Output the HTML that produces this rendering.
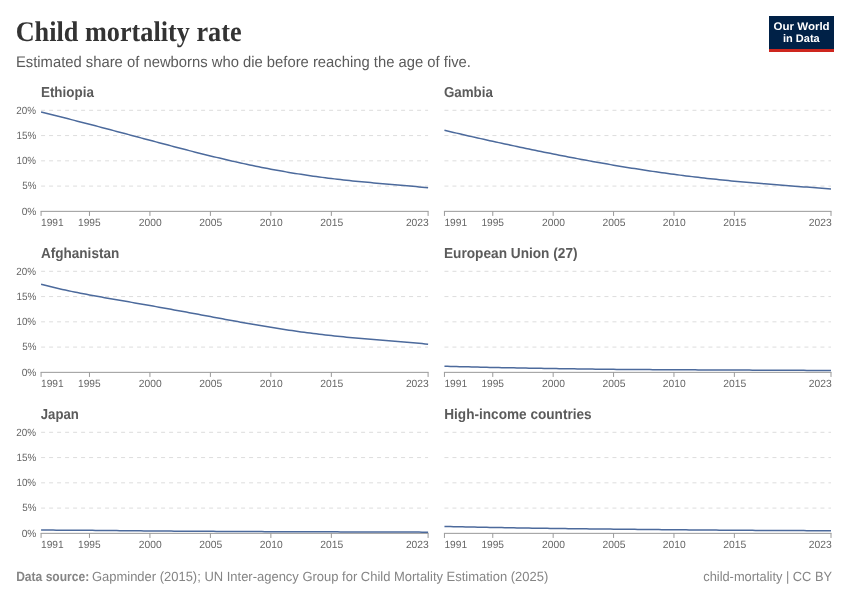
<!DOCTYPE html>
<html><head><meta charset="utf-8"><title>Child mortality rate</title>
<style>html,body{margin:0;padding:0;background:#fff;}body{width:850px;height:600px;overflow:hidden;font-family:"Liberation Sans",sans-serif;}</style>
</head><body>
<svg width="850" height="600" viewBox="0 0 850 600" style="display:block;will-change:transform" text-rendering="geometricPrecision">
<text x="15.67" y="41.00" font-family="Liberation Serif" font-size="28.5" fill="#333333" font-weight="bold" textLength="225.92" lengthAdjust="spacingAndGlyphs">Child mortality rate</text>
<text x="15.92" y="66.50" font-family="Liberation Sans" font-size="15.4" fill="#5b5b5b" textLength="455.01" lengthAdjust="spacingAndGlyphs">Estimated share of newborns who die before reaching the age of five.</text>
<rect x="769" y="16" width="65" height="36" fill="#002147"/>
<rect x="769" y="49" width="65" height="3" fill="#ce261e"/>
<text x="773.54" y="30.00" font-family="Liberation Sans" font-size="11.0" fill="#ffffff" font-weight="bold" textLength="56.11" lengthAdjust="spacingAndGlyphs">Our World</text>
<text x="782.98" y="42.00" font-family="Liberation Sans" font-size="11.0" fill="#ffffff" font-weight="bold" textLength="36.80" lengthAdjust="spacingAndGlyphs">in Data</text>
<g><text x="40.93" y="97.00" font-family="Liberation Sans" font-size="14.5" fill="#5b5b5b" font-weight="bold" textLength="52.98" lengthAdjust="spacingAndGlyphs">Ethiopia</text>
<line x1="41.08" x2="428.10" y1="186.09" y2="186.09" stroke="#dddddd" stroke-width="1" stroke-dasharray="4,4"/>
<line x1="41.08" x2="428.10" y1="160.83" y2="160.83" stroke="#dddddd" stroke-width="1" stroke-dasharray="4,4"/>
<line x1="41.08" x2="428.10" y1="135.57" y2="135.57" stroke="#dddddd" stroke-width="1" stroke-dasharray="4,4"/>
<line x1="41.08" x2="428.10" y1="110.31" y2="110.31" stroke="#dddddd" stroke-width="1" stroke-dasharray="4,4"/>
<text x="21.64" y="215.00" font-family="Liberation Sans" font-size="10.5" fill="#666666" textLength="14.72" lengthAdjust="spacingAndGlyphs">0%</text>
<text x="22.21" y="189.00" font-family="Liberation Sans" font-size="10.5" fill="#666666" textLength="14.14" lengthAdjust="spacingAndGlyphs">5%</text>
<text x="16.47" y="164.00" font-family="Liberation Sans" font-size="10.5" fill="#666666" textLength="19.59" lengthAdjust="spacingAndGlyphs">10%</text>
<text x="16.46" y="139.00" font-family="Liberation Sans" font-size="10.5" fill="#666666" textLength="19.80" lengthAdjust="spacingAndGlyphs">15%</text>
<text x="16.31" y="114.00" font-family="Liberation Sans" font-size="10.5" fill="#666666" textLength="19.75" lengthAdjust="spacingAndGlyphs">20%</text>
<line x1="40.58" x2="428.60" y1="211.35" y2="211.35" stroke="#999999" stroke-width="1"/>
<line x1="41.08" x2="41.08" y1="211.35" y2="215.95" stroke="#999999" stroke-width="1"/>
<text x="41.07" y="226.00" font-family="Liberation Sans" font-size="10.5" fill="#666666" textLength="22.62" lengthAdjust="spacingAndGlyphs">1991</text>
<line x1="89.46" x2="89.46" y1="211.35" y2="215.95" stroke="#999999" stroke-width="1"/>
<text x="78.10" y="226.00" font-family="Liberation Sans" font-size="10.5" fill="#666666" textLength="22.56" lengthAdjust="spacingAndGlyphs">1995</text>
<line x1="149.93" x2="149.93" y1="211.35" y2="215.95" stroke="#999999" stroke-width="1"/>
<text x="138.82" y="226.00" font-family="Liberation Sans" font-size="10.5" fill="#666666" textLength="22.87" lengthAdjust="spacingAndGlyphs">2000</text>
<line x1="210.40" x2="210.40" y1="211.35" y2="215.95" stroke="#999999" stroke-width="1"/>
<text x="199.29" y="226.00" font-family="Liberation Sans" font-size="10.5" fill="#666666" textLength="22.92" lengthAdjust="spacingAndGlyphs">2005</text>
<line x1="270.87" x2="270.87" y1="211.35" y2="215.95" stroke="#999999" stroke-width="1"/>
<text x="259.76" y="226.00" font-family="Liberation Sans" font-size="10.5" fill="#666666" textLength="22.87" lengthAdjust="spacingAndGlyphs">2010</text>
<line x1="331.35" x2="331.35" y1="211.35" y2="215.95" stroke="#999999" stroke-width="1"/>
<text x="320.23" y="226.00" font-family="Liberation Sans" font-size="10.5" fill="#666666" textLength="22.92" lengthAdjust="spacingAndGlyphs">2015</text>
<line x1="428.10" x2="428.10" y1="211.35" y2="215.95" stroke="#999999" stroke-width="1"/>
<text x="405.88" y="226.00" font-family="Liberation Sans" font-size="10.5" fill="#666666" textLength="22.92" lengthAdjust="spacingAndGlyphs">2023</text>
<polyline points="41.08,112.04 44.10,112.79 47.13,113.54 50.15,114.29 53.17,115.05 56.20,115.81 59.22,116.56 62.25,117.32 65.27,118.09 68.29,118.85 71.32,119.62 74.34,120.39 77.36,121.16 80.39,121.94 83.41,122.71 86.43,123.49 89.46,124.28 92.48,125.06 95.50,125.85 98.53,126.64 101.55,127.43 104.58,128.22 107.60,129.02 110.62,129.81 113.65,130.61 116.67,131.41 119.69,132.22 122.72,133.02 125.74,133.82 128.76,134.63 131.79,135.44 134.81,136.24 137.84,137.05 140.86,137.86 143.88,138.66 146.91,139.47 149.93,140.28 152.95,141.08 155.98,141.89 159.00,142.69 162.02,143.50 165.05,144.30 168.07,145.09 171.09,145.89 174.12,146.68 177.14,147.48 180.17,148.26 183.19,149.05 186.21,149.83 189.24,150.61 192.26,151.38 195.28,152.15 198.31,152.91 201.33,153.67 204.35,154.42 207.38,155.17 210.40,155.91 213.42,156.65 216.45,157.38 219.47,158.10 222.50,158.82 225.52,159.52 228.54,160.23 231.57,160.92 234.59,161.61 237.61,162.28 240.64,162.95 243.66,163.61 246.68,164.27 249.71,164.91 252.73,165.55 255.76,166.17 258.78,166.79 261.80,167.39 264.83,167.99 267.85,168.58 270.87,169.15 273.90,169.72 276.92,170.28 279.94,170.82 282.97,171.36 285.99,171.88 289.01,172.40 292.04,172.90 295.06,173.40 298.09,173.88 301.11,174.35 304.13,174.82 307.16,175.27 310.18,175.71 313.20,176.14 316.23,176.56 319.25,176.97 322.27,177.37 325.30,177.76 328.32,178.15 331.35,178.52 334.37,178.88 337.39,179.23 340.42,179.58 343.44,179.92 346.46,180.24 349.49,180.57 352.51,180.88 355.53,181.18 358.56,181.48 361.58,181.78 364.60,182.06 367.63,182.35 370.65,182.62 373.68,182.90 376.70,183.17 379.72,183.43 382.75,183.69 385.77,183.96 388.79,184.22 391.82,184.47 394.84,184.73 397.86,184.99 400.89,185.26 403.91,185.52 406.93,185.79 409.96,186.06 412.98,186.34 416.01,186.62 419.03,186.91 422.05,187.21 425.08,187.51 428.10,187.83" fill="none" stroke="#4c6a9c" stroke-width="1.5" stroke-linejoin="round"/></g>
<g><text x="443.92" y="97.00" font-family="Liberation Sans" font-size="14.5" fill="#5b5b5b" font-weight="bold" textLength="48.96" lengthAdjust="spacingAndGlyphs">Gambia</text>
<line x1="444.45" x2="831.00" y1="186.09" y2="186.09" stroke="#dddddd" stroke-width="1" stroke-dasharray="4,4"/>
<line x1="444.45" x2="831.00" y1="160.83" y2="160.83" stroke="#dddddd" stroke-width="1" stroke-dasharray="4,4"/>
<line x1="444.45" x2="831.00" y1="135.57" y2="135.57" stroke="#dddddd" stroke-width="1" stroke-dasharray="4,4"/>
<line x1="444.45" x2="831.00" y1="110.31" y2="110.31" stroke="#dddddd" stroke-width="1" stroke-dasharray="4,4"/>
<line x1="443.95" x2="831.50" y1="211.35" y2="211.35" stroke="#999999" stroke-width="1"/>
<line x1="444.45" x2="444.45" y1="211.35" y2="215.95" stroke="#999999" stroke-width="1"/>
<text x="444.44" y="226.00" font-family="Liberation Sans" font-size="10.5" fill="#666666" textLength="22.62" lengthAdjust="spacingAndGlyphs">1991</text>
<line x1="492.77" x2="492.77" y1="211.35" y2="215.95" stroke="#999999" stroke-width="1"/>
<text x="481.41" y="226.00" font-family="Liberation Sans" font-size="10.5" fill="#666666" textLength="22.56" lengthAdjust="spacingAndGlyphs">1995</text>
<line x1="553.17" x2="553.17" y1="211.35" y2="215.95" stroke="#999999" stroke-width="1"/>
<text x="542.05" y="226.00" font-family="Liberation Sans" font-size="10.5" fill="#666666" textLength="22.87" lengthAdjust="spacingAndGlyphs">2000</text>
<line x1="613.57" x2="613.57" y1="211.35" y2="215.95" stroke="#999999" stroke-width="1"/>
<text x="602.45" y="226.00" font-family="Liberation Sans" font-size="10.5" fill="#666666" textLength="22.92" lengthAdjust="spacingAndGlyphs">2005</text>
<line x1="673.96" x2="673.96" y1="211.35" y2="215.95" stroke="#999999" stroke-width="1"/>
<text x="662.85" y="226.00" font-family="Liberation Sans" font-size="10.5" fill="#666666" textLength="22.87" lengthAdjust="spacingAndGlyphs">2010</text>
<line x1="734.36" x2="734.36" y1="211.35" y2="215.95" stroke="#999999" stroke-width="1"/>
<text x="723.25" y="226.00" font-family="Liberation Sans" font-size="10.5" fill="#666666" textLength="22.92" lengthAdjust="spacingAndGlyphs">2015</text>
<line x1="831.00" x2="831.00" y1="211.35" y2="215.95" stroke="#999999" stroke-width="1"/>
<text x="808.78" y="226.00" font-family="Liberation Sans" font-size="10.5" fill="#666666" textLength="22.92" lengthAdjust="spacingAndGlyphs">2023</text>
<polyline points="444.45,130.30 447.47,131.02 450.49,131.73 453.51,132.44 456.53,133.14 459.55,133.84 462.57,134.54 465.59,135.23 468.61,135.92 471.63,136.61 474.65,137.29 477.67,137.97 480.69,138.64 483.71,139.32 486.73,139.99 489.75,140.65 492.77,141.32 495.79,141.98 498.81,142.64 501.83,143.29 504.85,143.94 507.87,144.59 510.89,145.24 513.91,145.88 516.93,146.52 519.95,147.16 522.97,147.79 525.99,148.42 529.01,149.05 532.03,149.68 535.05,150.30 538.07,150.92 541.09,151.53 544.11,152.14 547.13,152.75 550.15,153.36 553.17,153.96 556.19,154.55 559.21,155.15 562.23,155.74 565.25,156.33 568.27,156.91 571.29,157.49 574.31,158.06 577.33,158.63 580.35,159.20 583.37,159.76 586.39,160.32 589.41,160.88 592.43,161.43 595.45,161.97 598.47,162.51 601.49,163.05 604.51,163.58 607.53,164.11 610.55,164.63 613.57,165.14 616.59,165.66 619.61,166.16 622.63,166.66 625.65,167.16 628.67,167.65 631.69,168.14 634.71,168.61 637.73,169.09 640.74,169.56 643.76,170.02 646.78,170.48 649.80,170.93 652.82,171.38 655.84,171.82 658.86,172.25 661.88,172.68 664.90,173.10 667.92,173.52 670.94,173.93 673.96,174.33 676.98,174.73 680.00,175.12 683.02,175.51 686.04,175.89 689.06,176.26 692.08,176.63 695.10,177.00 698.12,177.35 701.14,177.70 704.16,178.05 707.18,178.39 710.20,178.72 713.22,179.05 716.24,179.37 719.26,179.69 722.28,180.00 725.30,180.30 728.32,180.60 731.34,180.90 734.36,181.19 737.38,181.47 740.40,181.75 743.42,182.03 746.44,182.30 749.46,182.57 752.48,182.83 755.50,183.09 758.52,183.35 761.54,183.60 764.56,183.85 767.58,184.09 770.60,184.33 773.62,184.57 776.64,184.81 779.66,185.04 782.68,185.28 785.70,185.51 788.72,185.74 791.74,185.97 794.76,186.19 797.78,186.42 800.80,186.65 803.82,186.88 806.84,187.11 809.86,187.34 812.88,187.57 815.90,187.80 818.92,188.04 821.94,188.28 824.96,188.52 827.98,188.77 831.00,189.02" fill="none" stroke="#4c6a9c" stroke-width="1.5" stroke-linejoin="round"/></g>
<g><text x="40.96" y="258.00" font-family="Liberation Sans" font-size="14.5" fill="#5b5b5b" font-weight="bold" textLength="78.29" lengthAdjust="spacingAndGlyphs">Afghanistan</text>
<line x1="41.08" x2="428.10" y1="347.09" y2="347.09" stroke="#dddddd" stroke-width="1" stroke-dasharray="4,4"/>
<line x1="41.08" x2="428.10" y1="321.83" y2="321.83" stroke="#dddddd" stroke-width="1" stroke-dasharray="4,4"/>
<line x1="41.08" x2="428.10" y1="296.57" y2="296.57" stroke="#dddddd" stroke-width="1" stroke-dasharray="4,4"/>
<line x1="41.08" x2="428.10" y1="271.31" y2="271.31" stroke="#dddddd" stroke-width="1" stroke-dasharray="4,4"/>
<text x="21.64" y="376.00" font-family="Liberation Sans" font-size="10.5" fill="#666666" textLength="14.72" lengthAdjust="spacingAndGlyphs">0%</text>
<text x="22.21" y="350.00" font-family="Liberation Sans" font-size="10.5" fill="#666666" textLength="14.14" lengthAdjust="spacingAndGlyphs">5%</text>
<text x="16.47" y="325.00" font-family="Liberation Sans" font-size="10.5" fill="#666666" textLength="19.59" lengthAdjust="spacingAndGlyphs">10%</text>
<text x="16.46" y="300.00" font-family="Liberation Sans" font-size="10.5" fill="#666666" textLength="19.80" lengthAdjust="spacingAndGlyphs">15%</text>
<text x="16.31" y="275.00" font-family="Liberation Sans" font-size="10.5" fill="#666666" textLength="19.75" lengthAdjust="spacingAndGlyphs">20%</text>
<line x1="40.58" x2="428.60" y1="372.35" y2="372.35" stroke="#999999" stroke-width="1"/>
<line x1="41.08" x2="41.08" y1="372.35" y2="376.95" stroke="#999999" stroke-width="1"/>
<text x="41.07" y="387.00" font-family="Liberation Sans" font-size="10.5" fill="#666666" textLength="22.62" lengthAdjust="spacingAndGlyphs">1991</text>
<line x1="89.46" x2="89.46" y1="372.35" y2="376.95" stroke="#999999" stroke-width="1"/>
<text x="78.10" y="387.00" font-family="Liberation Sans" font-size="10.5" fill="#666666" textLength="22.56" lengthAdjust="spacingAndGlyphs">1995</text>
<line x1="149.93" x2="149.93" y1="372.35" y2="376.95" stroke="#999999" stroke-width="1"/>
<text x="138.82" y="387.00" font-family="Liberation Sans" font-size="10.5" fill="#666666" textLength="22.87" lengthAdjust="spacingAndGlyphs">2000</text>
<line x1="210.40" x2="210.40" y1="372.35" y2="376.95" stroke="#999999" stroke-width="1"/>
<text x="199.29" y="387.00" font-family="Liberation Sans" font-size="10.5" fill="#666666" textLength="22.92" lengthAdjust="spacingAndGlyphs">2005</text>
<line x1="270.87" x2="270.87" y1="372.35" y2="376.95" stroke="#999999" stroke-width="1"/>
<text x="259.76" y="387.00" font-family="Liberation Sans" font-size="10.5" fill="#666666" textLength="22.87" lengthAdjust="spacingAndGlyphs">2010</text>
<line x1="331.35" x2="331.35" y1="372.35" y2="376.95" stroke="#999999" stroke-width="1"/>
<text x="320.23" y="387.00" font-family="Liberation Sans" font-size="10.5" fill="#666666" textLength="22.92" lengthAdjust="spacingAndGlyphs">2015</text>
<line x1="428.10" x2="428.10" y1="372.35" y2="376.95" stroke="#999999" stroke-width="1"/>
<text x="405.88" y="387.00" font-family="Liberation Sans" font-size="10.5" fill="#666666" textLength="22.92" lengthAdjust="spacingAndGlyphs">2023</text>
<polyline points="41.08,284.22 44.10,285.04 47.13,285.83 50.15,286.60 53.17,287.34 56.20,288.06 59.22,288.76 62.25,289.44 65.27,290.10 68.29,290.74 71.32,291.37 74.34,291.99 77.36,292.60 80.39,293.19 83.41,293.77 86.43,294.35 89.46,294.91 92.48,295.47 95.50,296.02 98.53,296.57 101.55,297.11 104.58,297.65 107.60,298.18 110.62,298.71 113.65,299.24 116.67,299.76 119.69,300.29 122.72,300.81 125.74,301.34 128.76,301.86 131.79,302.38 134.81,302.91 137.84,303.44 140.86,303.96 143.88,304.49 146.91,305.02 149.93,305.56 152.95,306.09 155.98,306.63 159.00,307.17 162.02,307.71 165.05,308.25 168.07,308.80 171.09,309.34 174.12,309.89 177.14,310.44 180.17,311.00 183.19,311.55 186.21,312.11 189.24,312.67 192.26,313.23 195.28,313.79 198.31,314.35 201.33,314.91 204.35,315.47 207.38,316.03 210.40,316.59 213.42,317.16 216.45,317.72 219.47,318.28 222.50,318.84 225.52,319.39 228.54,319.95 231.57,320.50 234.59,321.05 237.61,321.60 240.64,322.14 243.66,322.68 246.68,323.22 249.71,323.75 252.73,324.28 255.76,324.81 258.78,325.32 261.80,325.84 264.83,326.34 267.85,326.85 270.87,327.34 273.90,327.83 276.92,328.31 279.94,328.79 282.97,329.25 285.99,329.71 289.01,330.16 292.04,330.61 295.06,331.04 298.09,331.47 301.11,331.89 304.13,332.30 307.16,332.70 310.18,333.10 313.20,333.48 316.23,333.86 319.25,334.23 322.27,334.59 325.30,334.94 328.32,335.28 331.35,335.61 334.37,335.93 337.39,336.25 340.42,336.56 343.44,336.86 346.46,337.15 349.49,337.44 352.51,337.71 355.53,337.99 358.56,338.25 361.58,338.51 364.60,338.77 367.63,339.02 370.65,339.26 373.68,339.51 376.70,339.75 379.72,339.98 382.75,340.22 385.77,340.46 388.79,340.69 391.82,340.93 394.84,341.17 397.86,341.41 400.89,341.66 403.91,341.91 406.93,342.16 409.96,342.43 412.98,342.70 416.01,342.99 419.03,343.28 422.05,343.59 425.08,343.91 428.10,344.25" fill="none" stroke="#4c6a9c" stroke-width="1.5" stroke-linejoin="round"/></g>
<g><text x="444.01" y="258.00" font-family="Liberation Sans" font-size="14.5" fill="#5b5b5b" font-weight="bold" textLength="133.55" lengthAdjust="spacingAndGlyphs">European Union (27)</text>
<line x1="444.45" x2="831.00" y1="347.09" y2="347.09" stroke="#dddddd" stroke-width="1" stroke-dasharray="4,4"/>
<line x1="444.45" x2="831.00" y1="321.83" y2="321.83" stroke="#dddddd" stroke-width="1" stroke-dasharray="4,4"/>
<line x1="444.45" x2="831.00" y1="296.57" y2="296.57" stroke="#dddddd" stroke-width="1" stroke-dasharray="4,4"/>
<line x1="444.45" x2="831.00" y1="271.31" y2="271.31" stroke="#dddddd" stroke-width="1" stroke-dasharray="4,4"/>
<line x1="443.95" x2="831.50" y1="372.35" y2="372.35" stroke="#999999" stroke-width="1"/>
<line x1="444.45" x2="444.45" y1="372.35" y2="376.95" stroke="#999999" stroke-width="1"/>
<text x="444.44" y="387.00" font-family="Liberation Sans" font-size="10.5" fill="#666666" textLength="22.62" lengthAdjust="spacingAndGlyphs">1991</text>
<line x1="492.77" x2="492.77" y1="372.35" y2="376.95" stroke="#999999" stroke-width="1"/>
<text x="481.41" y="387.00" font-family="Liberation Sans" font-size="10.5" fill="#666666" textLength="22.56" lengthAdjust="spacingAndGlyphs">1995</text>
<line x1="553.17" x2="553.17" y1="372.35" y2="376.95" stroke="#999999" stroke-width="1"/>
<text x="542.05" y="387.00" font-family="Liberation Sans" font-size="10.5" fill="#666666" textLength="22.87" lengthAdjust="spacingAndGlyphs">2000</text>
<line x1="613.57" x2="613.57" y1="372.35" y2="376.95" stroke="#999999" stroke-width="1"/>
<text x="602.45" y="387.00" font-family="Liberation Sans" font-size="10.5" fill="#666666" textLength="22.92" lengthAdjust="spacingAndGlyphs">2005</text>
<line x1="673.96" x2="673.96" y1="372.35" y2="376.95" stroke="#999999" stroke-width="1"/>
<text x="662.85" y="387.00" font-family="Liberation Sans" font-size="10.5" fill="#666666" textLength="22.87" lengthAdjust="spacingAndGlyphs">2010</text>
<line x1="734.36" x2="734.36" y1="372.35" y2="376.95" stroke="#999999" stroke-width="1"/>
<text x="723.25" y="387.00" font-family="Liberation Sans" font-size="10.5" fill="#666666" textLength="22.92" lengthAdjust="spacingAndGlyphs">2015</text>
<line x1="831.00" x2="831.00" y1="372.35" y2="376.95" stroke="#999999" stroke-width="1"/>
<text x="808.78" y="387.00" font-family="Liberation Sans" font-size="10.5" fill="#666666" textLength="22.92" lengthAdjust="spacingAndGlyphs">2023</text>
<polyline points="444.45,366.25 447.47,366.33 450.49,366.40 453.51,366.48 456.53,366.56 459.55,366.64 462.57,366.72 465.59,366.79 468.61,366.87 471.63,366.95 474.65,367.03 477.67,367.10 480.69,367.18 483.71,367.25 486.73,367.32 489.75,367.38 492.77,367.45 495.79,367.51 498.81,367.58 501.83,367.64 504.85,367.70 507.87,367.76 510.89,367.82 513.91,367.87 516.93,367.93 519.95,367.99 522.97,368.04 525.99,368.10 529.01,368.15 532.03,368.20 535.05,368.26 538.07,368.31 541.09,368.36 544.11,368.41 547.13,368.46 550.15,368.50 553.17,368.55 556.19,368.60 559.21,368.64 562.23,368.69 565.25,368.73 568.27,368.78 571.29,368.83 574.31,368.87 577.33,368.91 580.35,368.96 583.37,369.00 586.39,369.04 589.41,369.08 592.43,369.12 595.45,369.16 598.47,369.19 601.49,369.23 604.51,369.26 607.53,369.29 610.55,369.32 613.57,369.35 616.59,369.38 619.61,369.40 622.63,369.43 625.65,369.45 628.67,369.47 631.69,369.49 634.71,369.51 637.73,369.53 640.74,369.55 643.76,369.57 646.78,369.59 649.80,369.61 652.82,369.63 655.84,369.65 658.86,369.66 661.88,369.68 664.90,369.70 667.92,369.72 670.94,369.73 673.96,369.75 676.98,369.77 680.00,369.78 683.02,369.80 686.04,369.82 689.06,369.83 692.08,369.85 695.10,369.86 698.12,369.88 701.14,369.89 704.16,369.91 707.18,369.92 710.20,369.94 713.22,369.95 716.24,369.96 719.26,369.98 722.28,369.99 725.30,370.01 728.32,370.02 731.34,370.04 734.36,370.05 737.38,370.06 740.40,370.08 743.42,370.09 746.44,370.11 749.46,370.12 752.48,370.14 755.50,370.15 758.52,370.16 761.54,370.18 764.56,370.19 767.58,370.21 770.60,370.22 773.62,370.24 776.64,370.25 779.66,370.26 782.68,370.28 785.70,370.29 788.72,370.30 791.74,370.32 794.76,370.33 797.78,370.35 800.80,370.36 803.82,370.37 806.84,370.39 809.86,370.40 812.88,370.42 815.90,370.43 818.92,370.44 821.94,370.46 824.96,370.47 827.98,370.49 831.00,370.50" fill="none" stroke="#4c6a9c" stroke-width="1.5" stroke-linejoin="round"/></g>
<g><text x="40.80" y="419.00" font-family="Liberation Sans" font-size="14.5" fill="#5b5b5b" font-weight="bold" textLength="38.04" lengthAdjust="spacingAndGlyphs">Japan</text>
<line x1="41.08" x2="428.10" y1="508.09" y2="508.09" stroke="#dddddd" stroke-width="1" stroke-dasharray="4,4"/>
<line x1="41.08" x2="428.10" y1="482.83" y2="482.83" stroke="#dddddd" stroke-width="1" stroke-dasharray="4,4"/>
<line x1="41.08" x2="428.10" y1="457.57" y2="457.57" stroke="#dddddd" stroke-width="1" stroke-dasharray="4,4"/>
<line x1="41.08" x2="428.10" y1="432.31" y2="432.31" stroke="#dddddd" stroke-width="1" stroke-dasharray="4,4"/>
<text x="21.64" y="537.00" font-family="Liberation Sans" font-size="10.5" fill="#666666" textLength="14.72" lengthAdjust="spacingAndGlyphs">0%</text>
<text x="22.21" y="511.00" font-family="Liberation Sans" font-size="10.5" fill="#666666" textLength="14.14" lengthAdjust="spacingAndGlyphs">5%</text>
<text x="16.47" y="486.00" font-family="Liberation Sans" font-size="10.5" fill="#666666" textLength="19.59" lengthAdjust="spacingAndGlyphs">10%</text>
<text x="16.46" y="461.00" font-family="Liberation Sans" font-size="10.5" fill="#666666" textLength="19.80" lengthAdjust="spacingAndGlyphs">15%</text>
<text x="16.31" y="436.00" font-family="Liberation Sans" font-size="10.5" fill="#666666" textLength="19.75" lengthAdjust="spacingAndGlyphs">20%</text>
<line x1="40.58" x2="428.60" y1="533.35" y2="533.35" stroke="#999999" stroke-width="1"/>
<line x1="41.08" x2="41.08" y1="533.35" y2="537.95" stroke="#999999" stroke-width="1"/>
<text x="41.07" y="548.00" font-family="Liberation Sans" font-size="10.5" fill="#666666" textLength="22.62" lengthAdjust="spacingAndGlyphs">1991</text>
<line x1="89.46" x2="89.46" y1="533.35" y2="537.95" stroke="#999999" stroke-width="1"/>
<text x="78.10" y="548.00" font-family="Liberation Sans" font-size="10.5" fill="#666666" textLength="22.56" lengthAdjust="spacingAndGlyphs">1995</text>
<line x1="149.93" x2="149.93" y1="533.35" y2="537.95" stroke="#999999" stroke-width="1"/>
<text x="138.82" y="548.00" font-family="Liberation Sans" font-size="10.5" fill="#666666" textLength="22.87" lengthAdjust="spacingAndGlyphs">2000</text>
<line x1="210.40" x2="210.40" y1="533.35" y2="537.95" stroke="#999999" stroke-width="1"/>
<text x="199.29" y="548.00" font-family="Liberation Sans" font-size="10.5" fill="#666666" textLength="22.92" lengthAdjust="spacingAndGlyphs">2005</text>
<line x1="270.87" x2="270.87" y1="533.35" y2="537.95" stroke="#999999" stroke-width="1"/>
<text x="259.76" y="548.00" font-family="Liberation Sans" font-size="10.5" fill="#666666" textLength="22.87" lengthAdjust="spacingAndGlyphs">2010</text>
<line x1="331.35" x2="331.35" y1="533.35" y2="537.95" stroke="#999999" stroke-width="1"/>
<text x="320.23" y="548.00" font-family="Liberation Sans" font-size="10.5" fill="#666666" textLength="22.92" lengthAdjust="spacingAndGlyphs">2015</text>
<line x1="428.10" x2="428.10" y1="533.35" y2="537.95" stroke="#999999" stroke-width="1"/>
<text x="405.88" y="548.00" font-family="Liberation Sans" font-size="10.5" fill="#666666" textLength="22.92" lengthAdjust="spacingAndGlyphs">2023</text>
<polyline points="41.08,530.05 44.10,530.07 47.13,530.09 50.15,530.10 53.17,530.12 56.20,530.14 59.22,530.16 62.25,530.17 65.27,530.19 68.29,530.21 71.32,530.23 74.34,530.25 77.36,530.27 80.39,530.29 83.41,530.31 86.43,530.33 89.46,530.35 92.48,530.37 95.50,530.40 98.53,530.43 101.55,530.46 104.58,530.49 107.60,530.52 110.62,530.55 113.65,530.58 116.67,530.61 119.69,530.65 122.72,530.68 125.74,530.71 128.76,530.75 131.79,530.78 134.81,530.81 137.84,530.84 140.86,530.87 143.88,530.90 146.91,530.93 149.93,530.95 152.95,530.97 155.98,531.00 159.00,531.02 162.02,531.04 165.05,531.06 168.07,531.09 171.09,531.11 174.12,531.13 177.14,531.15 180.17,531.17 183.19,531.19 186.21,531.21 189.24,531.22 192.26,531.24 195.28,531.26 198.31,531.28 201.33,531.30 204.35,531.32 207.38,531.33 210.40,531.35 213.42,531.37 216.45,531.38 219.47,531.40 222.50,531.42 225.52,531.43 228.54,531.45 231.57,531.47 234.59,531.48 237.61,531.50 240.64,531.51 243.66,531.53 246.68,531.54 249.71,531.56 252.73,531.57 255.76,531.59 258.78,531.60 261.80,531.61 264.83,531.63 267.85,531.64 270.87,531.65 273.90,531.66 276.92,531.67 279.94,531.68 282.97,531.70 285.99,531.71 289.01,531.72 292.04,531.73 295.06,531.74 298.09,531.75 301.11,531.76 304.13,531.77 307.16,531.77 310.18,531.78 313.20,531.79 316.23,531.80 319.25,531.81 322.27,531.82 325.30,531.83 328.32,531.84 331.35,531.85 334.37,531.86 337.39,531.87 340.42,531.88 343.44,531.89 346.46,531.90 349.49,531.91 352.51,531.92 355.53,531.93 358.56,531.94 361.58,531.95 364.60,531.95 367.63,531.96 370.65,531.97 373.68,531.98 376.70,531.99 379.72,532.00 382.75,532.01 385.77,532.02 388.79,532.03 391.82,532.04 394.84,532.05 397.86,532.06 400.89,532.07 403.91,532.08 406.93,532.08 409.96,532.09 412.98,532.10 416.01,532.11 419.03,532.12 422.05,532.13 425.08,532.14 428.10,532.15" fill="none" stroke="#4c6a9c" stroke-width="1.5" stroke-linejoin="round"/></g>
<g><text x="444.22" y="419.00" font-family="Liberation Sans" font-size="14.5" fill="#5b5b5b" font-weight="bold" textLength="147.41" lengthAdjust="spacingAndGlyphs">High-income countries</text>
<line x1="444.45" x2="831.00" y1="508.09" y2="508.09" stroke="#dddddd" stroke-width="1" stroke-dasharray="4,4"/>
<line x1="444.45" x2="831.00" y1="482.83" y2="482.83" stroke="#dddddd" stroke-width="1" stroke-dasharray="4,4"/>
<line x1="444.45" x2="831.00" y1="457.57" y2="457.57" stroke="#dddddd" stroke-width="1" stroke-dasharray="4,4"/>
<line x1="444.45" x2="831.00" y1="432.31" y2="432.31" stroke="#dddddd" stroke-width="1" stroke-dasharray="4,4"/>
<line x1="443.95" x2="831.50" y1="533.35" y2="533.35" stroke="#999999" stroke-width="1"/>
<line x1="444.45" x2="444.45" y1="533.35" y2="537.95" stroke="#999999" stroke-width="1"/>
<text x="444.44" y="548.00" font-family="Liberation Sans" font-size="10.5" fill="#666666" textLength="22.62" lengthAdjust="spacingAndGlyphs">1991</text>
<line x1="492.77" x2="492.77" y1="533.35" y2="537.95" stroke="#999999" stroke-width="1"/>
<text x="481.41" y="548.00" font-family="Liberation Sans" font-size="10.5" fill="#666666" textLength="22.56" lengthAdjust="spacingAndGlyphs">1995</text>
<line x1="553.17" x2="553.17" y1="533.35" y2="537.95" stroke="#999999" stroke-width="1"/>
<text x="542.05" y="548.00" font-family="Liberation Sans" font-size="10.5" fill="#666666" textLength="22.87" lengthAdjust="spacingAndGlyphs">2000</text>
<line x1="613.57" x2="613.57" y1="533.35" y2="537.95" stroke="#999999" stroke-width="1"/>
<text x="602.45" y="548.00" font-family="Liberation Sans" font-size="10.5" fill="#666666" textLength="22.92" lengthAdjust="spacingAndGlyphs">2005</text>
<line x1="673.96" x2="673.96" y1="533.35" y2="537.95" stroke="#999999" stroke-width="1"/>
<text x="662.85" y="548.00" font-family="Liberation Sans" font-size="10.5" fill="#666666" textLength="22.87" lengthAdjust="spacingAndGlyphs">2010</text>
<line x1="734.36" x2="734.36" y1="533.35" y2="537.95" stroke="#999999" stroke-width="1"/>
<text x="723.25" y="548.00" font-family="Liberation Sans" font-size="10.5" fill="#666666" textLength="22.92" lengthAdjust="spacingAndGlyphs">2015</text>
<line x1="831.00" x2="831.00" y1="533.35" y2="537.95" stroke="#999999" stroke-width="1"/>
<text x="808.78" y="548.00" font-family="Liberation Sans" font-size="10.5" fill="#666666" textLength="22.92" lengthAdjust="spacingAndGlyphs">2023</text>
<polyline points="444.45,526.45 447.47,526.51 450.49,526.58 453.51,526.64 456.53,526.71 459.55,526.77 462.57,526.83 465.59,526.90 468.61,526.96 471.63,527.03 474.65,527.09 477.67,527.15 480.69,527.22 483.71,527.28 486.73,527.34 489.75,527.39 492.77,527.45 495.79,527.51 498.81,527.56 501.83,527.62 504.85,527.67 507.87,527.72 510.89,527.78 513.91,527.83 516.93,527.88 519.95,527.94 522.97,527.99 525.99,528.04 529.01,528.09 532.03,528.14 535.05,528.18 538.07,528.23 541.09,528.28 544.11,528.32 547.13,528.37 550.15,528.41 553.17,528.45 556.19,528.49 559.21,528.53 562.23,528.57 565.25,528.61 568.27,528.64 571.29,528.68 574.31,528.72 577.33,528.75 580.35,528.79 583.37,528.82 586.39,528.86 589.41,528.89 592.43,528.92 595.45,528.96 598.47,528.99 601.49,529.02 604.51,529.05 607.53,529.09 610.55,529.12 613.57,529.15 616.59,529.18 619.61,529.21 622.63,529.25 625.65,529.28 628.67,529.31 631.69,529.34 634.71,529.37 637.73,529.40 640.74,529.43 643.76,529.46 646.78,529.49 649.80,529.52 652.82,529.55 655.84,529.58 658.86,529.61 661.88,529.64 664.90,529.67 667.92,529.69 670.94,529.72 673.96,529.75 676.98,529.78 680.00,529.80 683.02,529.83 686.04,529.86 689.06,529.89 692.08,529.91 695.10,529.94 698.12,529.97 701.14,529.99 704.16,530.02 707.18,530.04 710.20,530.07 713.22,530.09 716.24,530.12 719.26,530.14 722.28,530.17 725.30,530.19 728.32,530.21 731.34,530.23 734.36,530.25 737.38,530.27 740.40,530.29 743.42,530.31 746.44,530.32 749.46,530.34 752.48,530.36 755.50,530.38 758.52,530.39 761.54,530.41 764.56,530.42 767.58,530.44 770.60,530.46 773.62,530.47 776.64,530.49 779.66,530.50 782.68,530.52 785.70,530.53 788.72,530.54 791.74,530.56 794.76,530.57 797.78,530.59 800.80,530.60 803.82,530.62 806.84,530.63 809.86,530.65 812.88,530.66 815.90,530.67 818.92,530.69 821.94,530.70 824.96,530.72 827.98,530.73 831.00,530.75" fill="none" stroke="#4c6a9c" stroke-width="1.5" stroke-linejoin="round"/></g>
<text x="16.16" y="581.00" font-family="Liberation Sans" font-size="13.3" fill="#858585" font-weight="bold" textLength="73.06" lengthAdjust="spacingAndGlyphs">Data source:</text>
<text x="91.95" y="581.00" font-family="Liberation Sans" font-size="13.3" fill="#858585" textLength="456.29" lengthAdjust="spacingAndGlyphs">Gapminder (2015); UN Inter-agency Group for Child Mortality Estimation (2025)</text>
<text x="703.24" y="581.00" font-family="Liberation Sans" font-size="13.3" fill="#858585" textLength="128.82" lengthAdjust="spacingAndGlyphs">child-mortality | CC BY</text>
</svg>
</body></html>
